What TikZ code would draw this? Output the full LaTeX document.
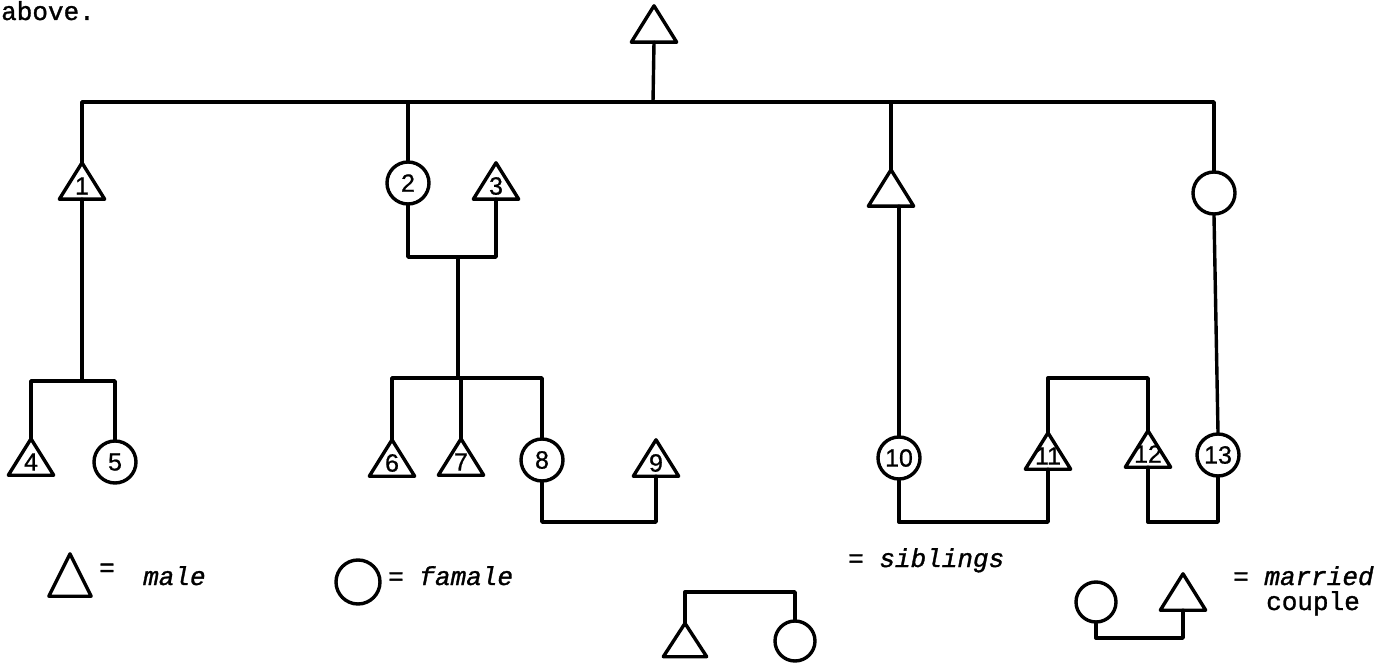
\documentclass[tikz,border=0pt]{standalone}
\usepackage{fontspec}
\newfontfamily\twfont[FakeBold=1.2]{Liberation Mono}
\newfontfamily\digfont[FakeBold=0.8]{Liberation Sans}
\newcommand\numsize{\digfont\fontsize{25}{25}\selectfont}
\newcommand\txtsize{\twfont\fontsize{26}{30}\selectfont}
\begin{document}
\begin{tikzpicture}[x=1pt,y=-1pt,
  link/.style={line width=3.4pt, line cap=round, line join=round},
  female/.style={circle, draw, line width=3.4pt, minimum size=42pt, inner sep=0pt, font=\numsize},
  male/.style={rectangle, minimum width=45pt, minimum height=36pt, inner sep=0pt},
  num/.style={label={[font=\numsize, inner sep=0pt, yshift=-5pt]center:#1}},
  legendtext/.style={inner sep=0pt, font=\txtsize},
]
\useasboundingbox (0,0) rectangle (1398,663);

% heading fragment
\node[legendtext, anchor=base west] (above) at (1,20) {above.};

% generation 1
\node[male] (root) at (654,24) {};

% generation 2
\node[male, num=1] (m1) at (82,181)   {};
\node[female]      (f2) at (408,183)  {2};
\node[male, num=3] (m3) at (496,181)  {};
\node[male]        (mR) at (891,188)  {};
\node[female]      (fR) at (1214,193) {};

% generation 3
\node[male, num=4]  (m4)  at (31,457)   {};
\node[female]       (f5)  at (115,462)  {5};
\node[male, num=6]  (m6)  at (392,458)  {};
\node[male, num=7]  (m7)  at (461,457)  {};
\node[female]       (f8)  at (542,460)  {8};
\node[male, num=9]  (m9)  at (656,458)  {};
\node[female]       (f10) at (899,458)  {10};
\node[male, num=11] (m11) at (1048,451) {};
\node[male, num=12] (m12) at (1148,449) {};
\node[female]       (f13) at (1218,455) {13};

% descent from the top ancestor
\coordinate (bar) at (653,102);
\draw[link] (root.south) -- (bar);
\draw[link] (m1.north) |- (bar) -| (fR.north);
\draw[link] (f2.north) -- (f2.north |- bar);
\draw[link] (mR.north) -- (mR.north |- bar);

% children of 1
\coordinate (sibA) at (82,381);
\draw[link] (m1.south) -- (sibA);
\draw[link] (m4.north) |- (sibA) -| (f5.north);

% couple 2--3 and their children
\coordinate (c23) at (458,257);
\draw[link] (f2.south) |- (c23) -| (m3.south);
\coordinate (sibB) at (458,378);
\draw[link] (c23) -- (sibB);
\draw[link] (m6.north) |- (sibB) -| (f8.north);
\draw[link] (m7.north) -- (m7.north |- sibB);

% couple 8--9
\coordinate (mar89) at (600,522);
\draw[link] (f8.south) |- (mar89) -| (m9.south);

% right-hand lines
\draw[link] (f10.north) -- (f10.north |- mR.south);
\draw[link] (fR.south) -- (f13.north);
\coordinate (sibC) at (1098,378);
\draw[link] (m11.north) |- (sibC) -| (m12.north);
\coordinate (mar1011) at (975,522);
\draw[link] (f10.south) |- (mar1011) -| (m11.south);
\coordinate (mar1213) at (1184,522);
\draw[link] (m12.south) |- (mar1213) -| (f13.south);

% key
\node[male, minimum width=42pt, minimum height=42pt] (keyM) at (70,575) {};
\node[legendtext] (eqM) at (107,570) {=};
\node[legendtext, anchor=base west] (maleTxt) at (143,585) {\itshape male};
\node[female, minimum size=44pt] (keyF) at (358,582) {};
\node[legendtext, anchor=base west] (femaleTxt) at (388,585) {= {\itshape famale}};

\node[male, minimum width=43pt, minimum height=33pt] (sibM) at (685,640) {};
\node[female, minimum size=40pt] (sibF) at (795,641) {};
\coordinate (sibD) at (735,592);
\draw[link] (sibM.north) |- (sibD) -| (sibF.north);
\node[legendtext, anchor=base west] (sibTxt) at (848,567) {= {\itshape siblings}};

\node[female, minimum size=40pt] (marF) at (1096,602) {};
\node[male, minimum width=45pt, minimum height=36pt] (marM) at (1183,592) {};
\coordinate (marD) at (1140,638);
\draw[link] (marF.south) |- (marD) -| (marM.south);
\node[legendtext, anchor=base west] (marTxt) at (1233,585) {= {\itshape married}};
\node[legendtext, anchor=base west] (coupleTxt) at (1266,610) {couple};

% triangle outlines for the male symbols
\foreach \n in {root,m1,m3,mR,m4,m6,m7,m9,m11,m12,keyM,sibM,marM}
  \draw[link] (\n.north) -- (\n.south west) -- (\n.south east) -- cycle;
\end{tikzpicture}
\end{document}
